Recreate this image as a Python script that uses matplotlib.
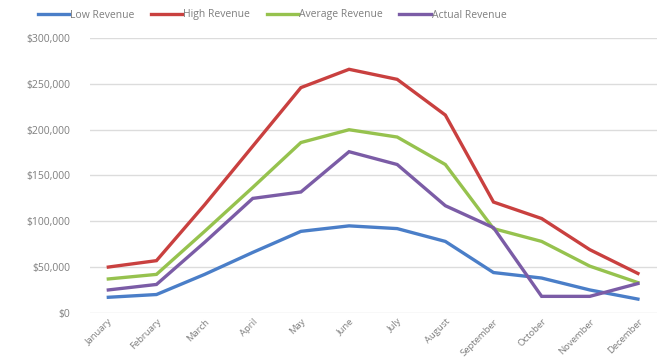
#!/usr/bin/env python3

import matplotlib

matplotlib.use("Agg")

import matplotlib.pyplot as plt
from matplotlib.ticker import FuncFormatter


MONTHS = [
    "January", "February", "March", "April", "May", "June",
    "July", "August", "September", "October", "November", "December",
]

LOW_REVENUE = [17000, 20000, 42000, 66000, 89000, 95000, 92000, 78000, 44000, 38000, 25000, 15000]
HIGH_REVENUE = [50000, 57000, 118000, 182000, 246000, 266000, 255000, 216000, 121000, 103000, 69000, 43000]
AVERAGE_REVENUE = [37000, 42000, 89000, 137000, 186000, 200000, 192000, 162000, 92000, 78000, 51000, 33000]
ACTUAL_REVENUE = [25000, 31000, 77000, 125000, 132000, 176000, 162000, 117000, 93000, 18000, 18000, 32000]

SERIES = [
    ("Low Revenue", LOW_REVENUE, "#4A7EC8"),
    ("High Revenue", HIGH_REVENUE, "#C9403F"),
    ("Average Revenue", AVERAGE_REVENUE, "#96C24E"),
    ("Actual Revenue", ACTUAL_REVENUE, "#7B5CA6"),
]

TEXT_COLOR = "#7F7F7F"
GRID_COLOR = "#DCDCDC"


def main() -> None:
    plt.rcParams["font.family"] = ["Open Sans", "DejaVu Sans"]

    fig = plt.figure(figsize=(6.62, 3.6), dpi=100)
    ax = fig.add_axes([0.136, 0.131, 0.856, 0.763])

    x = range(len(MONTHS))
    for label, values, color in SERIES:
        ax.plot(x, values, color=color, linewidth=2.4, label=label, solid_joinstyle="miter")

    ax.set_xlim(-0.38, 11.39)
    ax.set_ylim(0, 300000)
    ax.set_yticks(range(0, 300001, 50000))
    ax.yaxis.set_major_formatter(FuncFormatter(lambda v, _: f"${v:,.0f}"))
    ax.set_xticks(list(x))
    ax.set_xticklabels(MONTHS, rotation=45, ha="right", rotation_mode="anchor", fontsize=6.8)

    ax.grid(axis="y", color=GRID_COLOR, linewidth=1.0)
    ax.set_axisbelow(True)
    for spine in ax.spines.values():
        spine.set_visible(False)
    ax.tick_params(axis="both", length=0, colors=TEXT_COLOR)
    ax.tick_params(axis="y", pad=14, labelsize=7.5)
    ax.tick_params(axis="x", pad=3)

    fig.legend(
        loc="center",
        bbox_to_anchor=(272 / 662, 1 - 15 / 360),
        ncol=4,
        frameon=False,
        fontsize=7.5,
        labelcolor=TEXT_COLOR,
        handlelength=3.0,
        handletextpad=0.1,
        columnspacing=1.6,
    )

    fig.savefig("out.png", dpi=100)
    plt.close(fig)


if __name__ == "__main__":
    main()
